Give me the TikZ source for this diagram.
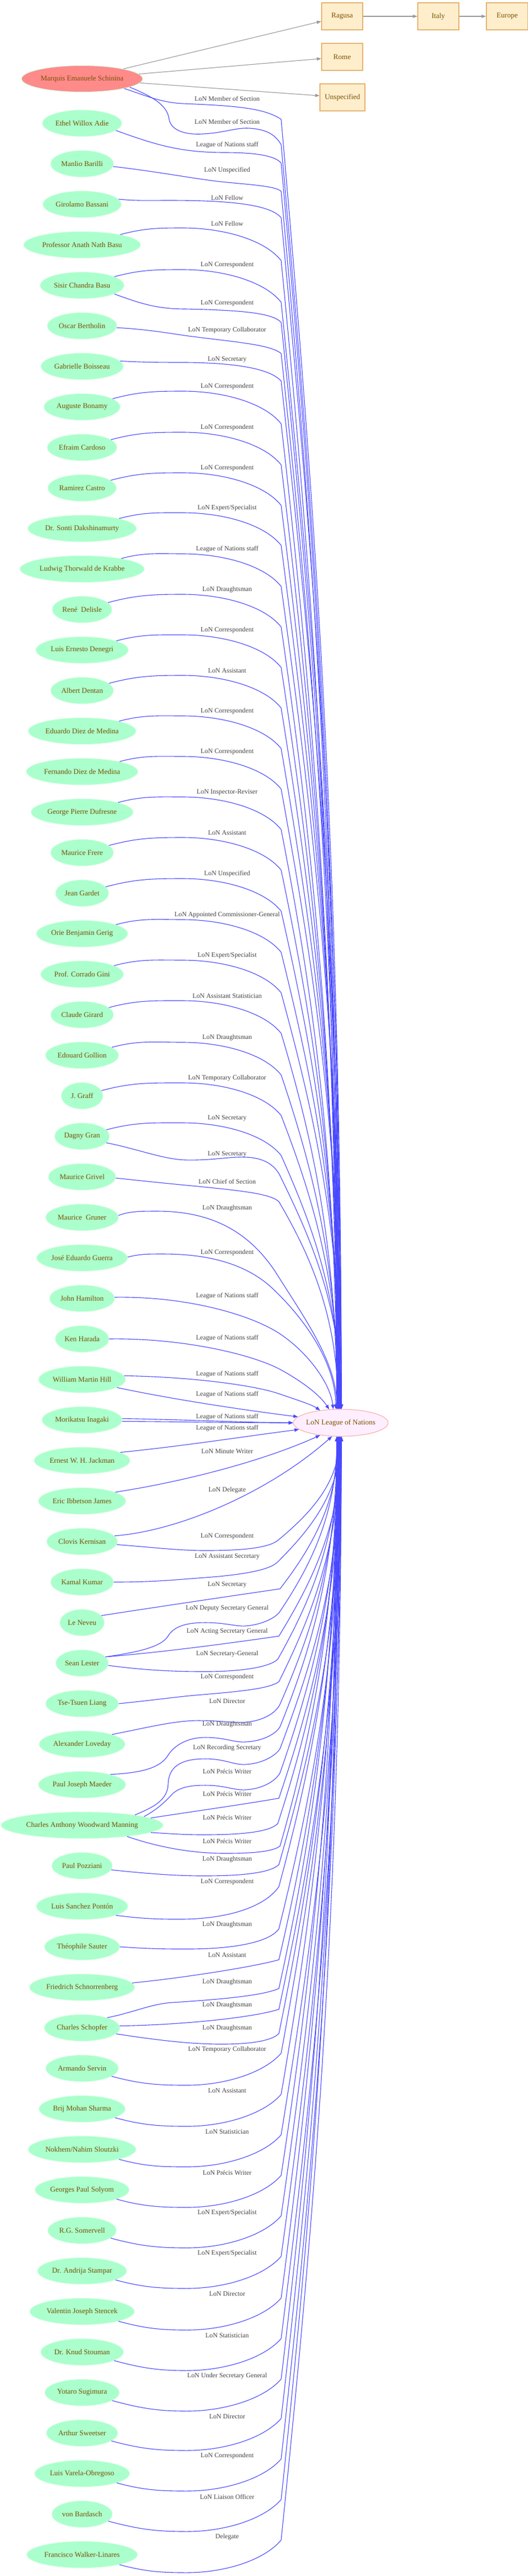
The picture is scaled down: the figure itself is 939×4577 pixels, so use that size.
\documentclass[tikz,border=0pt]{standalone}
\usepackage{fontspec}
\setmainfont{Liberation Serif}
\usetikzlibrary{shapes.geometric,arrows.meta,calc}
\definecolor{nodegreen}{HTML}{AAFFCC}
\definecolor{nodeborder}{HTML}{D2FFE0}
\definecolor{nodered}{HTML}{FF8A8A}
\definecolor{nodetext}{HTML}{7A5200}
\definecolor{boxfill}{HTML}{FFEECC}
\definecolor{boxborder}{HTML}{E6B470}
\definecolor{lonfill}{HTML}{FFEEFF}
\definecolor{lonborder}{HTML}{F2A8A8}
\definecolor{edgeblue}{HTML}{4848FF}
\definecolor{edgegray}{HTML}{9A9A9A}
\definecolor{labelgray}{HTML}{444444}
\newcommand\mynodefont{\fontsize{13pt}{15pt}\selectfont}
\newcommand\mylabelfont{\fontsize{11.8pt}{13pt}\selectfont}
% final segments into the LoN node (top / bottom)
\newcommand\etop[3]{\draw[lonedge] #1 .. controls (550,{-((#2)+0.25*(2504-(#2)))}) and (#3,{-((#2)+0.55*(2504-(#2)))}) .. ($(lon.north)+({(#3)-606},0)$);}
\newcommand\ebot[3]{\draw[lonedge] #1 .. controls (550,{-((#2)-0.25*((#2)-2552))}) and (#3,{-((#2)-0.55*((#2)-2552))}) .. ($(lon.south)+({(#3)-606},0)$);}
\newcommand\elab[2]{\node[elabel] (lab#1) at (404,-#1) {#2};}
\newcommand\uarch[4]{\etop{(#1.15) to[out=15,in=180] (325,{-((#2)+8)}) .. controls (395,{-((#2)+8)}) and (470,{-((#2)+28)}) .. (500,{-((#2)+66)})}{(#2)+66}{#3}\elab{#2}{#4}}
\newcommand\larch[4]{\ebot{(#1.-15) to[out=-15,in=180] (332,{-((#2)-10)}) .. controls (400,{-((#2)-10)}) and (470,{-((#2)-32)}) .. (500,{-((#2)-67)})}{(#2)-67}{#3}\elab{#2}{#4}}
\begin{document}
\begin{tikzpicture}[x=1pt,y=1pt,
  person/.style={ellipse, fill=nodegreen, draw=nodeborder, line width=1pt, text=nodetext, font=\mynodefont, inner xsep=2.5pt, inner ysep=0pt, minimum height=47pt, minimum width=74pt},
  placebox/.style={rectangle, fill=boxfill, draw=boxborder, line width=1.2pt, text=nodetext, font=\mynodefont, minimum height=48pt, minimum width=73pt, inner sep=2pt},
  lonnode/.style={ellipse, fill=lonfill, draw=lonborder, line width=1pt, text=nodetext, font=\mynodefont, inner xsep=-2pt, inner ysep=0pt, minimum width=168pt, minimum height=48pt},
  lonedge/.style={draw=edgeblue, line width=1.1pt, -{Triangle[length=8pt,width=6pt]}},
  grayedge/.style={draw=edgegray, line width=1.1pt, -{Triangle[length=8pt,width=5.5pt]}},
  elabel/.style={text=labelgray, font=\mylabelfont, inner sep=0pt}]
\useasboundingbox (0,0) rectangle (939,-4577);
\fill[white] (0,0) rectangle (939,-4577);

% places
\node[placebox] (ragusa) at (608.5,-29) {Ragusa};
\node[placebox] (italy) at (779.5,-29) {Italy};
\node[placebox, minimum width=74pt] (europe) at (902,-29) {Europe};
\node[placebox] (rome) at (608.5,-101) {Rome};
\node[placebox, minimum width=80pt] (unspec) at (609,-173) {Unspecified};

% LoN
\node[lonnode] (lon) at (606,-2528) {LoN League of Nations};

% persons
\node[person, fill=nodered] (n0) at (146,-140) {Marquis Emanuele Schinina};
\node[person] (n1) at (146,-219) {Ethel Willox Adie};
\node[person] (n2) at (146,-291) {Manlio Barilli};
\node[person] (n3) at (146,-363) {Girolamo Bassani};
\node[person] (n4) at (146,-435) {Professor Anath Nath Basu};
\node[person] (n5) at (146,-507) {Sisir Chandra Basu};
\node[person] (n6) at (146,-579) {Oscar Bertholin};
\node[person] (n7) at (146,-651) {Gabrielle Boisseau};
\node[person] (n8) at (146,-723) {Auguste Bonamy};
\node[person] (n9) at (146,-795) {Efraim Cardoso};
\node[person] (n10) at (146,-867) {Ramirez Castro};
\node[person] (n11) at (146,-939) {Dr. Sonti Dakshinamurty};
\node[person] (n12) at (146,-1011) {Ludwig Thorwald de Krabbe};
\node[person] (n13) at (146,-1083) {René~ Delisle};
\node[person] (n14) at (146,-1155) {Luis Ernesto Denegri};
\node[person] (n15) at (146,-1227) {Albert Dentan};
\node[person] (n16) at (146,-1299) {Eduardo Diez de Medina};
\node[person] (n17) at (146,-1371) {Fernando Diez de Medina};
\node[person] (n18) at (146,-1443) {George Pierre Dufresne};
\node[person] (n19) at (146,-1515) {Maurice Frere};
\node[person] (n20) at (146,-1587) {Jean Gardet};
\node[person] (n21) at (146,-1659) {Orie Benjamin Gerig};
\node[person] (n22) at (146,-1731) {Prof. Corrado Gini};
\node[person] (n23) at (146,-1803) {Claude Girard};
\node[person] (n24) at (146,-1875) {Edouard Gollion};
\node[person] (n25) at (146,-1947) {J. Graff};
\node[person] (n26) at (146,-2019) {Dagny Gran};
\node[person] (n27) at (146,-2091) {Maurice Grivel};
\node[person] (n28) at (146,-2163) {Maurice~ Gruner};
\node[person] (n29) at (146,-2235) {José Eduardo Guerra};
\node[person] (n30) at (146,-2307) {John Hamilton};
\node[person] (n31) at (146,-2379) {Ken Harada};
\node[person] (n32) at (146,-2451) {William Martin Hill};
\node[person] (n33) at (146,-2523) {Morikatsu Inagaki};
\node[person] (n34) at (146,-2595) {Ernest W. H. Jackman};
\node[person] (n35) at (146,-2667) {Eric Ibbetson James};
\node[person] (n36) at (146,-2739) {Clovis Kernisan};
\node[person] (n37) at (146,-2811) {Kamal Kumar};
\node[person] (n38) at (146,-2883) {Le Neveu};
\node[person] (n39) at (146,-2955) {Sean Lester};
\node[person] (n40) at (146,-3027) {Tse-Tsuen Liang};
\node[person] (n41) at (146,-3099) {Alexander Loveday};
\node[person] (n42) at (146,-3171) {Paul Joseph Maeder};
\node[person] (n43) at (146,-3243) {Charles Anthony Woodward Manning};
\node[person] (n44) at (146,-3315) {Paul Pozziani};
\node[person] (n45) at (146,-3387) {Luis Sanchez Pontón};
\node[person] (n46) at (146,-3459) {Théophile Sauter};
\node[person] (n47) at (146,-3531) {Friedrich Schnorrenberg};
\node[person] (n48) at (146,-3603) {Charles Schopfer};
\node[person] (n49) at (146,-3675) {Armando Servin};
\node[person] (n50) at (146,-3747) {Brij Mohan Sharma};
\node[person] (n51) at (146,-3819) {Nokhem/Nahim Sloutzki};
\node[person] (n52) at (146,-3891) {Georges Paul Solyom};
\node[person] (n53) at (146,-3963) {R.G. Somervell};
\node[person] (n54) at (146,-4035) {Dr. Andrija Stampar};
\node[person] (n55) at (146,-4107) {Valentin Joseph Stencek};
\node[person] (n56) at (146,-4179) {Dr. Knud Stouman};
\node[person] (n57) at (146,-4251) {Yotaro Sugimura};
\node[person] (n58) at (146,-4323) {Arthur Sweetser};
\node[person] (n59) at (146,-4395) {Luis Varela-Obregoso};
\node[person] (n60) at (146,-4467) {von Bardasch};
\node[person] (n61) at (146,-4539) {Francisco Walker-Linares};

% gray place edges
\draw[grayedge] (n0) -- (ragusa);
\draw[grayedge] (n0) -- (rome);
\draw[grayedge] (n0) -- (unspec);
\draw[grayedge] (ragusa) -- (italy);
\draw[grayedge] (italy) -- (europe);

% ---- upper half ----
\etop{(n0.-13) .. controls (260,-170) and (285,-182) .. (325,-184) .. controls (420,-188) and (470,-192) .. (500,-212)}{212}{607}
\elab{175}{LoN Member of Section}
\etop{(n0.-10) .. controls (280,-175) and (298,-190) .. (301,-213) .. controls (305,-232) and (330,-240) .. (361,-238) .. controls (400,-236) and (420,-226) .. (445,-228) .. controls (475,-230) and (490,-240) .. (500,-257)}{257}{605}
\elab{216}{LoN Member of Section}
\etop{(n1.-12) to[out=-20,in=180] (400,-271) .. controls (450,-271) and (490,-276) .. (500,-290)}{290}{603}
\elab{258}{League of Nations staff}
\etop{(n2.-5) .. controls (280,-305) and (330,-315) .. (385,-322) .. controls (440,-328) and (490,-330) .. (500,-340)}{340}{601}
\elab{303}{LoN Unspecified}
\etop{(n3.8) .. controls (240,-357) and (265,-356) .. (300,-356) .. controls (400,-356) and (480,-362) .. (500,-387)}{387}{607}
\elab{351}{LoN Fellow}
\uarch{n4}{397}{599}{LoN Fellow}
\uarch{n5}{471}{605}{LoN Correspondent}
\etop{(n5.-15) to[out=-20,in=180] (330,-549) .. controls (420,-551) and (485,-555) .. (500,-573)}{573}{603}
\elab{539}{LoN Correspondent}
\etop{(n6.-3) .. controls (260,-585) and (300,-592) .. (335,-597) .. controls (420,-608) and (480,-612) .. (500,-628)}{628}{601}
\elab{587}{LoN Temporary Collaborator}
\etop{(n7.8) .. controls (260,-644) and (290,-644) .. (332,-644) .. controls (420,-645) and (480,-655) .. (500,-677)}{677}{607}
\elab{639}{LoN Secretary}
\uarch{n8}{687}{599}{LoN Correspondent}
\uarch{n9}{760}{601}{LoN Correspondent}
\uarch{n10}{832}{603}{LoN Correspondent}
\uarch{n11}{903}{605}{LoN Expert/Specialist}
\uarch{n12}{976}{607}{League of Nations staff}
\uarch{n13}{1048}{599}{LoN Draughtsman}
\uarch{n14}{1120}{601}{LoN Correspondent}
\uarch{n15}{1192}{603}{LoN Assistant}
\uarch{n16}{1264}{605}{LoN Correspondent}
\uarch{n17}{1336}{607}{LoN Correspondent}
\uarch{n18}{1408}{599}{LoN Inspector-Reviser}
\uarch{n19}{1480}{601}{LoN Assistant}
\uarch{n20}{1553}{603}{LoN Unspecified}
\uarch{n21}{1626}{605}{LoN Appointed Commissioner-General}
\uarch{n22}{1698}{607}{LoN Expert/Specialist}
\uarch{n23}{1770}{599}{LoN Assistant Statistician}
\uarch{n24}{1844}{601}{LoN Draughtsman}
\uarch{n25}{1916}{603}{LoN Temporary Collaborator}
\uarch{n26}{1987}{605}{LoN Secretary}
\etop{(n26.-15) .. controls (240,-2040) and (290,-2060) .. (330,-2061) .. controls (380,-2062) and (405,-2055) .. (436,-2056) .. controls (470,-2057) and (490,-2070) .. (500,-2093)}{2093}{607}
\elab{2051}{LoN Secretary}
\etop{(n27.-2) .. controls (270,-2100) and (310,-2104) .. (353,-2108) .. controls (420,-2115) and (480,-2120) .. (496,-2135)}{2135}{601}
\elab{2099}{LoN Chief of Section}
\draw[lonedge] (n28.3) .. controls (230,-2152) and (250,-2152) .. (280,-2152) .. controls (390,-2152) and (450,-2200) .. (490,-2260) .. controls (540,-2340) and (599,-2420) .. ($(lon.north)+(-7,0)$);
\elab{2147}{LoN Draughtsman}
\draw[lonedge] (n29.1) .. controls (250,-2228) and (260,-2228) .. (290,-2228) .. controls (380,-2228) and (440,-2250) .. (480,-2285) .. controls (540,-2340) and (597,-2420) .. ($(lon.north)+(-9,0)$);
\elab{2226}{LoN Correspondent}
\draw[lonedge] (n30.2) .. controls (330,-2303) and (445,-2335) .. (498,-2370) .. controls (550,-2405) and (588,-2460) .. (lon.119);
\elab{2303}{League of Nations staff}
\draw[lonedge] (n31.0) .. controls (320,-2377) and (445,-2405) .. (498,-2433) .. controls (540,-2456) and (570,-2480) .. (lon.131);
\elab{2378}{League of Nations staff}
\draw[lonedge] (n32.5) .. controls (330,-2446) and (450,-2460) .. (498,-2477) .. controls (530,-2488) and (555,-2496) .. (lon.149);
\elab{2442}{League of Nations staff}
\draw[lonedge] (n32.-13) .. controls (300,-2485) and (430,-2505) .. (lon.172);
\elab{2478}{League of Nations staff}
\draw[lonedge] (n33.2) .. controls (320,-2522) and (420,-2527) .. (lon.west);
\draw[lonedge] (n33.-2) .. controls (320,-2526) and (420,-2528) .. (lon.west);
\elab{2518}{League of Nations staff}
\elab{2538}{League of Nations staff}
% ---- lower half ----
\draw[lonedge] (n34.12) .. controls (320,-2570) and (430,-2553) .. (lon.189);
\elab{2579}{LoN Minute Writer}
\draw[lonedge] (n35.15) .. controls (330,-2632) and (470,-2595) .. (lon.211);
\elab{2648}{LoN Delegate}
\draw[lonedge] (n36.10) .. controls (320,-2720) and (480,-2650) .. (lon.237);
\elab{2730}{LoN Correspondent}
\ebot{(n36.-5) .. controls (280,-2750) and (320,-2755) .. (365,-2755) .. controls (420,-2755) and (475,-2752) .. (494,-2737)}{2737}{603}
\elab{2766}{LoN Assistant Secretary}
\ebot{(n37.0) .. controls (280,-2811) and (320,-2806) .. (365,-2803) .. controls (430,-2798) and (480,-2790) .. (494,-2775)}{2775}{605}
\elab{2816}{LoN Secretary}
\ebot{(n38.20) .. controls (300,-2852) and (450,-2830) .. (498,-2823)}{2823}{601}
\elab{2858}{LoN Deputy Secretary General}
\ebot{(n39.15) .. controls (250,-2935) and (290,-2925) .. (300,-2905) .. controls (312,-2888) and (335,-2883) .. (365,-2883) .. controls (400,-2883) and (420,-2890) .. (436,-2889) .. controls (465,-2887) and (490,-2875) .. (498,-2863)}{2863}{599}
\elab{2899}{LoN Acting Secretary General}
\ebot{(n39.15) .. controls (300,-2935) and (440,-2915) .. (496,-2907)}{2907}{607}
\elab{2939}{LoN Secretary-General}
\ebot{(n39.-5) .. controls (260,-2968) and (310,-2970) .. (365,-2970) .. controls (430,-2970) and (480,-2962) .. (494,-2948)}{2948}{603}
\elab{2980}{LoN Correspondent}
\ebot{(n40.0) .. controls (280,-3020) and (320,-3014) .. (360,-3011) .. controls (430,-3005) and (480,-3000) .. (496,-2988)}{2988}{605}
\elab{3023}{LoN Director}
\ebot{(n41.18) .. controls (260,-3070) and (310,-3057) .. (353,-3057) .. controls (390,-3057) and (410,-3061) .. (436,-3060) .. controls (465,-3058) and (490,-3045) .. (498,-3028)}{3028}{601}
\elab{3064}{LoN Draughtsman}
\ebot{(n42.20) .. controls (255,-3150) and (285,-3140) .. (298,-3120) .. controls (310,-3100) and (335,-3087) .. (365,-3087) .. controls (400,-3087) and (415,-3096) .. (436,-3095) .. controls (465,-3094) and (490,-3082) .. (498,-3068)}{3068}{599}
\elab{3106}{LoN Recording Secretary}
\ebot{(n43.11) .. controls (270,-3212) and (298,-3200) .. (299,-3170) .. controls (300,-3140) and (320,-3125) .. (365,-3125) .. controls (400,-3125) and (415,-3136) .. (436,-3135) .. controls (465,-3134) and (490,-3120) .. (498,-3107)}{3107}{607}
\elab{3147}{LoN Précis Writer}
\ebot{(n43.8) .. controls (280,-3215) and (295,-3200) .. (307,-3187) .. controls (320,-3175) and (340,-3172) .. (365,-3172) .. controls (400,-3172) and (415,-3181) .. (436,-3180) .. controls (465,-3179) and (490,-3165) .. (498,-3150)}{3150}{603}
\elab{3187}{LoN Précis Writer}
\ebot{(n43.6) .. controls (320,-3222) and (440,-3205) .. (496,-3195)}{3195}{605}
\elab{3229}{LoN Précis Writer}
\ebot{(n43.-6) .. controls (300,-3258) and (330,-3260) .. (361,-3260) .. controls (430,-3260) and (480,-3255) .. (494,-3240)}{3240}{601}
\elab{3271}{LoN Précis Writer}
\ebot{(n43.-14) .. controls (290,-3285) and (350,-3293) .. (400,-3293) .. controls (450,-3293) and (485,-3290) .. (498,-3280)}{3280}{599}
\elab{3304}{LoN Draughtsman}
\ebot{(n44.-8) .. controls (270,-3330) and (320,-3333) .. (361,-3333) .. controls (430,-3333) and (480,-3328) .. (496,-3313)}{3313}{607}
\elab{3344}{LoN Correspondent}
\ebot{(n45.-15) .. controls (260,-3410) and (290,-3410) .. (320,-3410) .. controls (400,-3410) and (470,-3390) .. (496,-3352)}{3352}{603}
\elab{3420}{LoN Draughtsman}
\ebot{(n46.0) .. controls (270,-3463) and (300,-3463) .. (332,-3463) .. controls (420,-3463) and (480,-3450) .. (496,-3427)}{3427}{605}
\elab{3474}{LoN Assistant}
\ebot{(n47.5) .. controls (320,-3515) and (450,-3495) .. (496,-3482)}{3482}{601}
\elab{3522}{LoN Draughtsman}
\ebot{(n48.22) .. controls (240,-3575) and (270,-3560) .. (307,-3558) .. controls (400,-3552) and (470,-3545) .. (496,-3533)}{3533}{599}
\elab{3563}{LoN Draughtsman}
\ebot{(n48.3) .. controls (320,-3598) and (450,-3585) .. (496,-3570)}{3570}{607}
\elab{3604}{LoN Draughtsman}
\ebot{(n48.-10) .. controls (280,-3625) and (340,-3632) .. (394,-3632) .. controls (450,-3632) and (485,-3625) .. (496,-3613)}{3613}{603}
\elab{3642}{LoN Temporary Collaborator}
\larch{n49}{3715}{605}{LoN Assistant}
\larch{n50}{3788}{601}{LoN Statistician}
\larch{n51}{3860}{607}{LoN Précis Writer}
\larch{n52}{3932}{599}{LoN Expert/Specialist}
\larch{n53}{4004}{603}{LoN Expert/Specialist}
\larch{n54}{4076}{605}{LoN Director}
\larch{n55}{4150}{601}{LoN Statistician}
\larch{n56}{4222}{607}{LoN Under Secretary General}
\larch{n57}{4294}{599}{LoN Director}
\larch{n58}{4364}{603}{LoN Correspondent}
\larch{n59}{4436}{605}{LoN Liaison Officer}
\larch{n60}{4508}{601}{Delegate}
\ebot{(n61.-15) to[out=-15,in=180] (332,-4571) .. controls (400,-4571) and (470,-4549) .. (500,-4513)}{4513}{607}
\end{tikzpicture}
\end{document}
